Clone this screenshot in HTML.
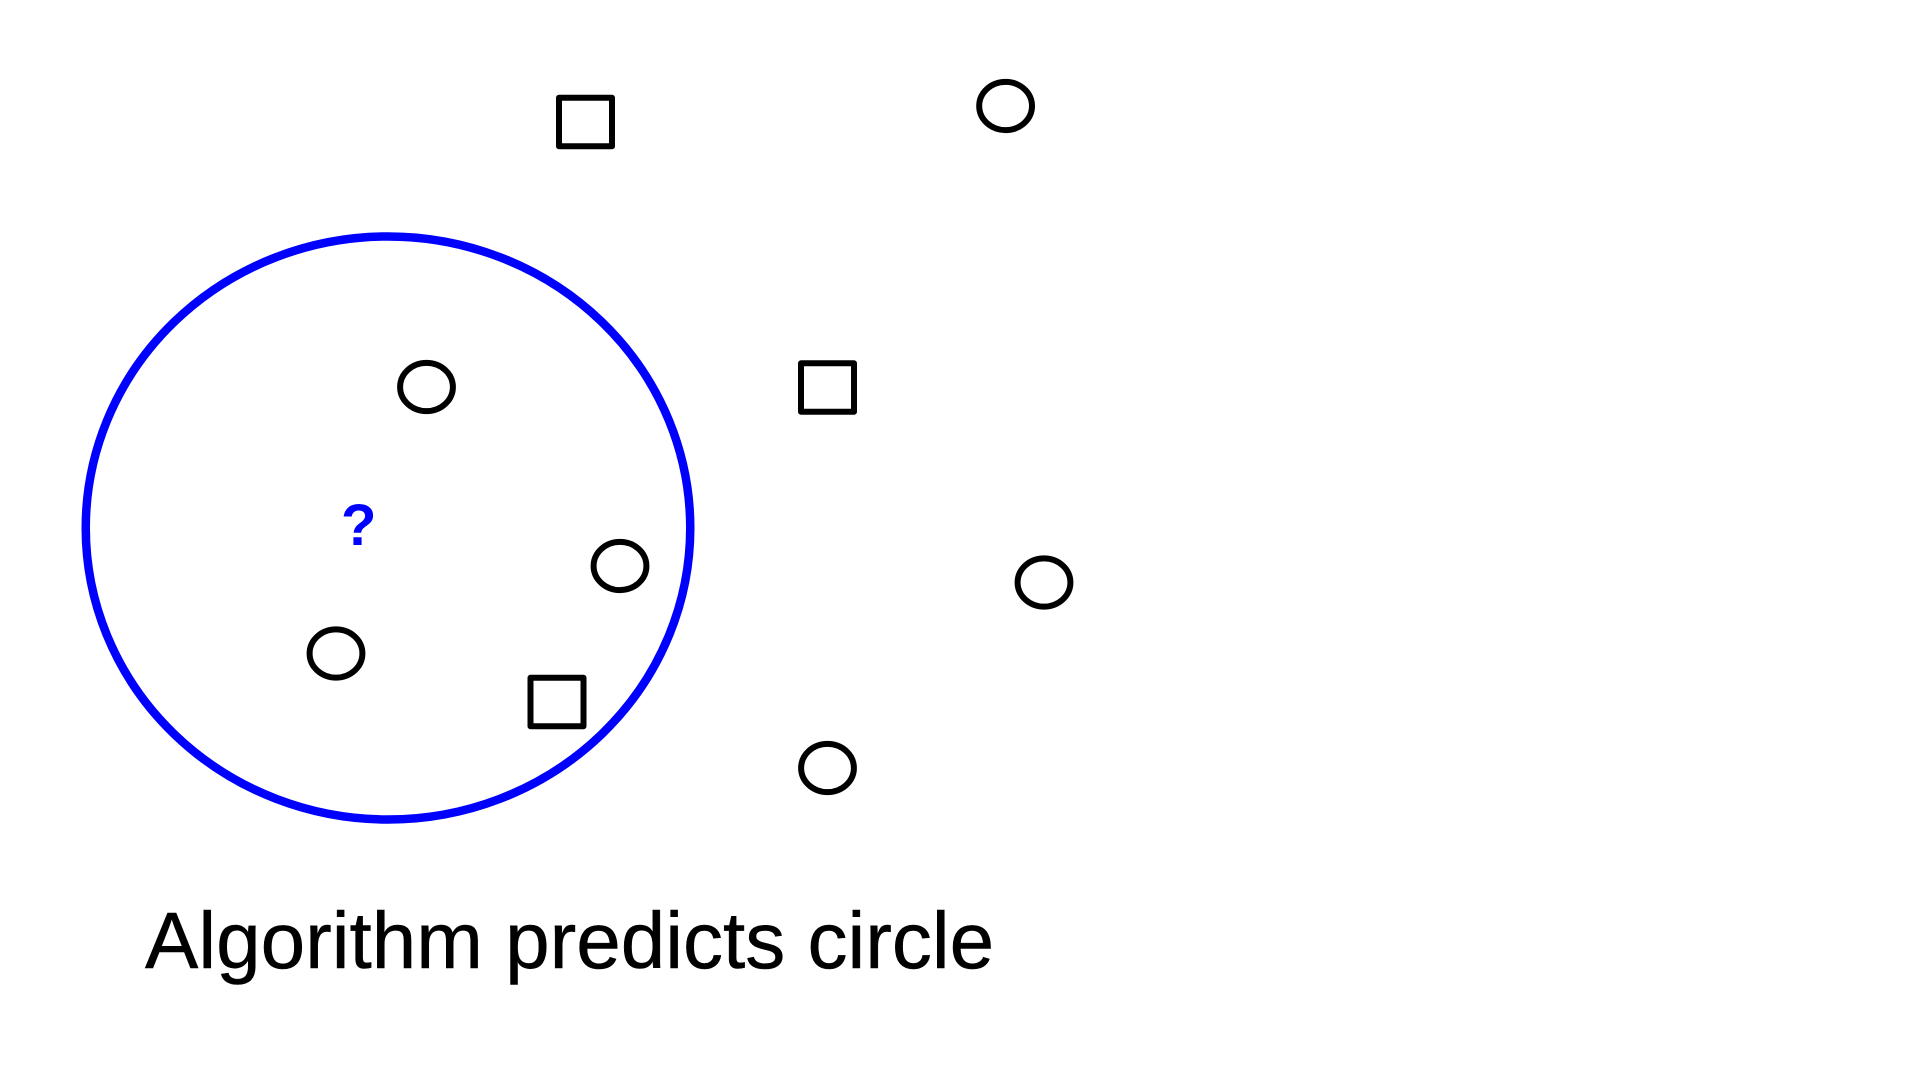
<!DOCTYPE html>
<html lang="en">
<head>
<meta charset="utf-8">
<title>Algorithm predicts circle</title>
<style>
html,body{margin:0;padding:0;background:#fff;width:1920px;height:1080px;overflow:hidden}
svg{display:block}
text{font-family:"Liberation Sans",sans-serif}
</style>
</head>
<body>
<svg id="chart" width="1920" height="1080" viewBox="0 0 1920 1080" xmlns="http://www.w3.org/2000/svg">
<rect x="0" y="0" width="1920" height="1080" fill="#ffffff"/>
<g id="marks"></g>
<text x="341" y="545" font-size="58" font-weight="700" fill="#0000ff">?</text>
<text x="145" y="968" font-size="80" fill="#000000" stroke="#000000" stroke-width="0.5">Algorithm predicts circle</text>
</svg>
<script>
const circleFeatureA = [100.56, 42.65, 62.0, 33.6, 104.4, 82.75];
const circleFeatureB = [89.4, 61.3, 43.4, 34.65, 41.75, 23.2];
const squareFeatureA = [58.55, 82.75, 55.7];
const squareFeatureB = [87.8, 61.25, 29.8];
const neighbourhoodCentreA = 38.8;
const neighbourhoodCentreB = 47.2;
const neighbourhoodRadius = 29.75;

const ns = 'http://www.w3.org/2000/svg';
const marks = document.getElementById('marks');
function xAxis(v) { return v * 10; }
function yAxis(v) { return 1000 - v * 10; }
function radiusX(v) { return v * 10.16; }
function radiusY(v) { return v * 9.8; }

const region = document.createElementNS(ns, 'ellipse');


region.setAttribute('cx', xAxis(neighbourhoodCentreA));
region.setAttribute('cy', yAxis(neighbourhoodCentreB));
region.setAttribute('rx', radiusX(neighbourhoodRadius));
region.setAttribute('ry', radiusY(neighbourhoodRadius));
region.setAttribute('fill', 'none');
region.setAttribute('stroke', '#0000ff');
region.setAttribute('stroke-width', '8.5');
marks.appendChild(region);

circleFeatureA.forEach(function (a, i) {
  const c = document.createElementNS(ns, 'ellipse');
  
  
  c.setAttribute('cx', xAxis(a));
  c.setAttribute('cy', yAxis(circleFeatureB[i]));
  c.setAttribute('rx', 26.4);
  c.setAttribute('ry', 24.1);
  c.setAttribute('fill', 'none');
  c.setAttribute('stroke', '#000000');
  c.setAttribute('stroke-width', '6');
  marks.appendChild(c);
});

squareFeatureA.forEach(function (a, i) {
  const s = document.createElementNS(ns, 'rect');
  
  
  s.setAttribute('x', xAxis(a) - 26.5);
  s.setAttribute('y', yAxis(squareFeatureB[i]) - 24.2);
  s.setAttribute('width', 53);
  s.setAttribute('height', 48.4);
  s.setAttribute('fill', 'none');
  s.setAttribute('stroke', '#000000');
  s.setAttribute('stroke-width', '6');
  s.setAttribute('stroke-linejoin', 'round');
  marks.appendChild(s);
});
</script>
</body>
</html>
